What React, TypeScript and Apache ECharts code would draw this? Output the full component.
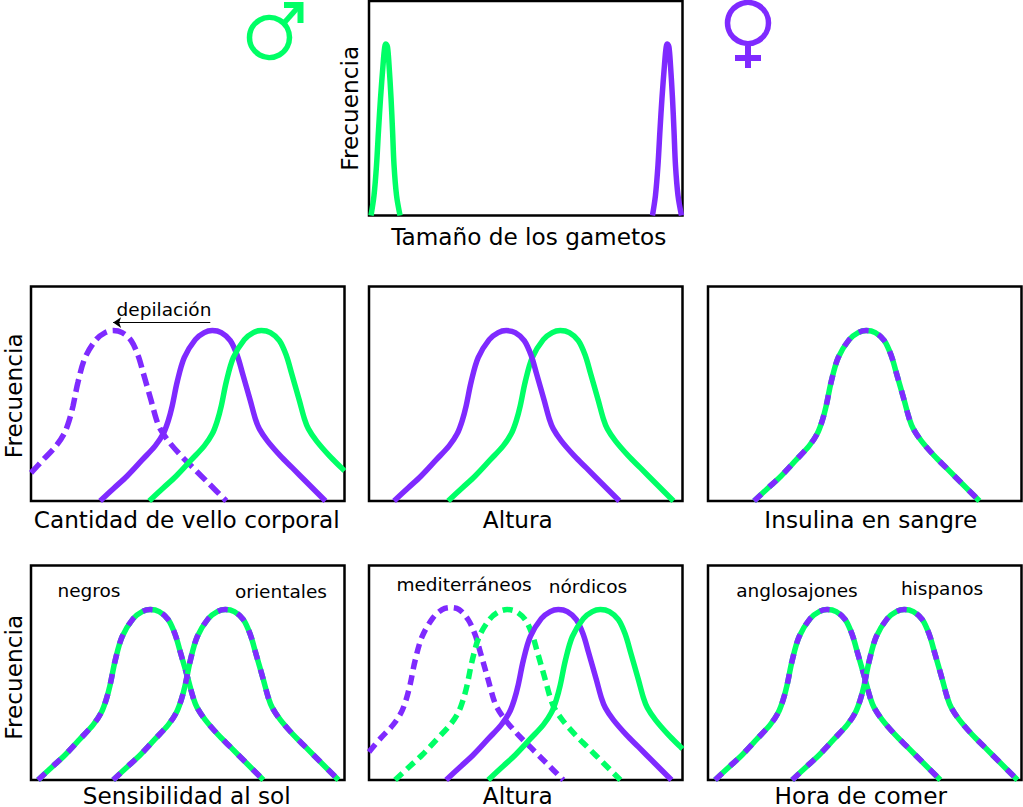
import React, { useEffect, useRef } from "react";
import * as echarts from "echarts";

const GREEN = "#00ff66";
const PURPLE = "#7f2aff";
const FONT = "DejaVu Sans";

// Frequency heights shared by the bell-shaped curves
const bellFreq = [0, 13, 25, 41, 55, 67, 80, 95, 119, 143, 161, 168, 170, 168, 160, 145, 128, 100, 82, 72, 60, 45, 33, 17, 0];
const gameteFreq = [0, 20, 50, 85, 117, 150, 168, 171, 168, 150, 117, 85, 50, 20, 0];

// Top panel
const gameteMaleX = [2, 5, 7.5, 9.5, 11.5, 14, 15.7, 17, 18.5, 20, 22, 23.5, 25, 27.5, 31];
const gameteFemaleX = [283, 286, 288.5, 290.5, 292.5, 295, 296.7, 298, 299.5, 301, 303, 304.5, 306, 308.5, 312];

// Cantidad de vello corporal
const vellFemaleDepX = [0, 12, 25, 33, 38, 42, 47, 54, 65, 74, 82, 91, 100, 107, 112, 120, 125, 129, 137, 150, 162, 178, 195];
const vellFemaleDepFreq = [28, 41, 55, 67, 80, 95, 119, 143, 161, 168, 170, 168, 160, 145, 128, 100, 82, 72, 60, 45, 33, 17, 0];
const vellFemaleX = [69, 83, 96, 111, 124, 132, 137, 141, 146, 153, 164, 173, 181, 190, 199, 206, 211, 219, 224, 228, 236, 249, 261, 277, 294];
const vellMaleX = [118, 132, 145, 160, 173, 181, 186, 190, 195, 202, 213, 222, 230, 239, 248, 255, 260, 268, 273, 277, 285, 298, 310, 313];
const vellMaleFreq = [0, 13, 25, 41, 55, 67, 80, 95, 119, 143, 161, 168, 170, 168, 160, 145, 128, 100, 82, 72, 60, 45, 33, 30];
// Altura
const altFemaleX = [25, 39, 52, 67, 80, 88, 93, 97, 102, 109, 120, 129, 137, 146, 155, 162, 167, 175, 180, 184, 192, 205, 217, 233, 250];
const altMaleX = [79, 93, 106, 121, 134, 142, 147, 151, 156, 163, 174, 183, 191, 200, 209, 216, 221, 229, 234, 238, 246, 259, 271, 287, 304];
// Insulina en sangre
const insulinaX = [46, 60, 73, 88, 101, 109, 114, 118, 123, 130, 141, 150, 158, 167, 176, 183, 188, 196, 201, 205, 213, 226, 238, 254, 271];
// Sensibilidad al sol
const solNegrosX = [7, 21, 34, 49, 62, 70, 75, 79, 84, 91, 102, 111, 119, 128, 137, 144, 149, 157, 162, 166, 174, 187, 199, 215, 232];
const solOrientalesX = [82, 96, 109, 124, 137, 145, 150, 154, 159, 166, 177, 186, 194, 203, 212, 219, 224, 232, 237, 241, 249, 262, 274, 290, 307];
// Altura por poblaciones
const medFemaleX = [0, 11, 24, 32, 37, 41, 46, 53, 64, 73, 81, 90, 99, 106, 111, 119, 124, 128, 136, 149, 161, 177, 194];
const medFemaleFreq = [28, 41, 55, 67, 80, 95, 119, 143, 162, 170, 172, 170, 160, 145, 128, 100, 82, 72, 60, 45, 33, 17, 0];
const medMaleX = [26, 40, 53, 68, 81, 89, 94, 98, 103, 110, 121, 130, 138, 147, 156, 163, 168, 176, 181, 185, 193, 206, 218, 234, 251];
const norFemaleX = [77, 91, 104, 119, 132, 140, 145, 149, 154, 161, 172, 181, 189, 198, 207, 214, 219, 227, 232, 236, 244, 257, 269, 285, 302];
const norMaleX = [119, 133, 146, 161, 174, 182, 187, 191, 196, 203, 214, 223, 231, 240, 249, 256, 261, 269, 274, 278, 286, 299, 311, 313];
const norMaleFreq = [0, 13, 25, 41, 55, 67, 80, 95, 119, 143, 161, 168, 170, 168, 160, 145, 128, 100, 82, 72, 60, 45, 33, 31];
// Hora de comer
const comerAngloX = [7, 21, 34, 49, 62, 70, 75, 79, 84, 91, 102, 111, 119, 128, 137, 144, 149, 157, 162, 166, 174, 187, 199, 215, 232];
const comerHispanoX = [84, 98, 111, 126, 139, 147, 152, 156, 161, 168, 179, 188, 196, 205, 214, 221, 226, 234, 239, 243, 251, 264, 276, 292, 309];

const panelNames = ["Tamaño de los gametos", "Cantidad de vello corporal", "Altura", "Insulina en sangre", "Sensibilidad al sol", "Altura", "Hora de comer"];
const yName = "Frecuencia";
const annotations: [string, number, number][] = [
  ["depilación", 164, 309],
  ["negros", 89, 590],
  ["orientales", 281, 591],
  ["mediterráneos", 464, 584],
  ["nórdicos", 588, 586],
  ["anglosajones", 797, 590],
  ["hispanos", 942, 588],
];

// grid rectangles and name placement
const panels: { left: number; top: number; yTitle: boolean; nameShift: number; nameGap: number; yShift: number; yGap: number }[] = [
  { left: 369, top: 1, yTitle: true, nameShift: 3, nameGap: 9, yShift: 0, yGap: 8 },
  { left: 31, top: 286.5, yTitle: true, nameShift: -1, nameGap: 7, yShift: 2, yGap: 6.5 },
  { left: 369, top: 286.5, yTitle: false, nameShift: -8, nameGap: 7, yShift: 0, yGap: 8 },
  { left: 708, top: 286.5, yTitle: false, nameShift: 6, nameGap: 7, yShift: 0, yGap: 8 },
  { left: 31, top: 565.5, yTitle: true, nameShift: -1, nameGap: 3.5, yShift: 4.5, yGap: 6.5 },
  { left: 369, top: 565.5, yTitle: false, nameShift: -8, nameGap: 3.5, yShift: 0, yGap: 8 },
  { left: 708, top: 565.5, yTitle: false, nameShift: -4, nameGap: 3.5, yShift: 0, yGap: 8 },
];
const W = 313.5;
const H = 214.5;

const pairs = (xs: number[], ys: number[]) => xs.map((x, i) => [x, ys[i]]);

function line(panel: number, xs: number[], ys: number[], color: string, dash?: number[], extra: any = {}) {
  return {
    type: "line",
    xAxisIndex: panel,
    yAxisIndex: panel,
    data: pairs(xs, ys),
    smooth: 0.33,
    symbol: "none",
    silent: true,
    clip: true,
    lineStyle: { color, width: 5.5, type: dash || "solid", cap: "butt" },
    ...extra,
  };
}

const BI = [10, 10.5];
const DASH_A = [13, 6];
const DASH_E = [10, 6];

function buildOption() {
  return {
    animation: false,
    backgroundColor: "#ffffff",
    grid: panels.map((p) => ({
      left: p.left,
      top: p.top,
      width: W,
      height: H,
      show: true,
      borderColor: "#000000",
      borderWidth: 2.5,
      backgroundColor: "#ffffff",
      containLabel: false,
      outerBoundsMode: "none",
    })),
    xAxis: panels.map((p, i) => ({
      type: "value",
      gridIndex: i,
      min: 0,
      max: 313,
      name: panelNames[i],
      nameLocation: "middle",
      nameGap: p.nameGap,
      nameTextStyle: {
        fontFamily: FONT,
        fontSize: 23.2,
        color: "#000",
        verticalAlign: "top",
        padding: p.nameShift >= 0 ? [0, 0, 0, p.nameShift * 2] : [0, -p.nameShift * 2, 0, 0],
      },
      axisLine: { show: false },
      axisTick: { show: false },
      axisLabel: { show: false },
      splitLine: { show: false },
    })),
    yAxis: panels.map((p, i) => ({
      type: "value",
      gridIndex: i,
      min: 0,
      max: 214,
      name: p.yTitle ? yName : "",
      nameLocation: "middle",
      nameGap: p.yGap,
      nameTextStyle: { fontFamily: FONT, fontSize: 23.2, color: "#000", padding: [0, p.yShift * 2, 0, 0] },
      axisLine: { show: false },
      axisTick: { show: false },
      axisLabel: { show: false },
      splitLine: { show: false },
    })),
    series: [
      line(0, gameteMaleX, gameteFreq, GREEN),
      line(0, gameteFemaleX, gameteFreq, PURPLE),

      line(1, vellFemaleDepX, vellFemaleDepFreq, PURPLE, DASH_A, {
        markLine: {
          silent: true,
          symbol: ["none", "arrow"],
          symbolSize: 8,
          label: { show: false },
          lineStyle: { color: "#000", width: 1, type: "solid" },
          data: [[{ coord: [179, 178] }, { coord: [82, 178] }]],
        },
      }),
      line(1, vellFemaleX, bellFreq, PURPLE),
      line(1, vellMaleX, vellMaleFreq, GREEN),

      line(2, altMaleX, bellFreq, GREEN),
      line(2, altFemaleX, bellFreq, PURPLE),

      line(3, insulinaX, bellFreq, GREEN),
      line(3, insulinaX, bellFreq, PURPLE, BI),

      line(4, solNegrosX, bellFreq, GREEN),
      line(4, solNegrosX, bellFreq, PURPLE, BI),
      line(4, solOrientalesX, bellFreq, GREEN),
      line(4, solOrientalesX, bellFreq, PURPLE, BI),

      line(5, medFemaleX, medFemaleFreq, PURPLE, DASH_E),
      line(5, medMaleX, bellFreq, GREEN, DASH_E),
      line(5, norFemaleX, bellFreq, PURPLE),
      line(5, norMaleX, norMaleFreq, GREEN),

      line(6, comerAngloX, bellFreq, GREEN),
      line(6, comerAngloX, bellFreq, PURPLE, BI),
      line(6, comerHispanoX, bellFreq, GREEN),
      line(6, comerHispanoX, bellFreq, PURPLE, BI),
    ],
    graphic: [
      ...annotations.map(([text, x, y]) => ({
        type: "text",
        x,
        y,
        style: { text, fontFamily: FONT, fontSize: 18.5, fill: "#000", align: "center", verticalAlign: "middle" },
      })),
      // male symbol
      { type: "circle", shape: { cx: 269.5, cy: 37.5, r: 20 }, style: { fill: "none", stroke: GREEN, lineWidth: 5.5 } },
      { type: "line", shape: { x1: 284, y1: 23, x2: 300, y2: 5 }, style: { stroke: GREEN, lineWidth: 5.5 } },
      { type: "polyline", shape: { points: [[284, 5], [300.5, 5], [300.5, 23]] }, style: { fill: "none", stroke: GREEN, lineWidth: 6 } },
      // female symbol
      { type: "circle", shape: { cx: 748, cy: 23, r: 20.5 }, style: { fill: "none", stroke: PURPLE, lineWidth: 5.5 } },
      { type: "line", shape: { x1: 748, y1: 46, x2: 748, y2: 68 }, style: { stroke: PURPLE, lineWidth: 6 } },
      { type: "line", shape: { x1: 735, y1: 58, x2: 761, y2: 58 }, style: { stroke: PURPLE, lineWidth: 6 } },
    ],
  };
}

export default function App() {
  const ref = useRef<HTMLDivElement>(null);
  useEffect(() => {
    const chart = echarts.init(ref.current!, null, { renderer: "svg" });
    chart.setOption(buildOption() as any);
    return () => chart.dispose();
  }, []);
  return <div ref={ref} style={{ position: "fixed", left: 0, top: 0, width: 1023, height: 807 }} />;
}
